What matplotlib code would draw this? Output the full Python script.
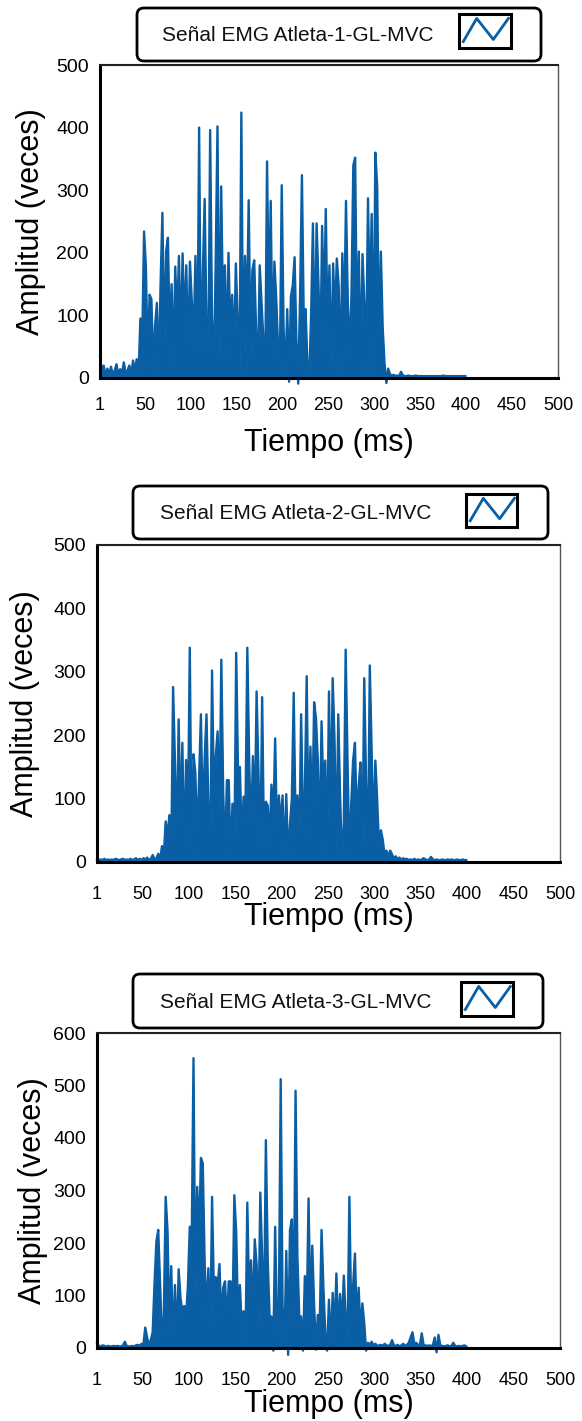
import numpy as np
import matplotlib
matplotlib.use('Agg')
import matplotlib.pyplot as plt
from matplotlib.patches import FancyBboxPatch, Rectangle

plt.rcParams['font.family'] = ['Liberation Sans', 'DejaVu Sans']

# ---------------- data (2 ms grid) ----------------
tiempo = np.arange(1, 400, 2)  # ms

emg_atleta_1 = [
    34, 8, 20, 3, 15, 6, 18, 4, 12, 22,
    5, 14, 8, 25, 6, 12, 20, 4, 28, 10,
    30, 5, 95, 60, 234, 178, 20, 133, 126, 15,
    84, 120, 2, 150, 264, 40, 202, 224, 60, 150,
    20, 178, 90, 195, 50, 199, 80, 180, 30, 186,
    122, 60, 195, 2, 400, 2, 164, 286, 90, 2,
    396, 100, 2, 180, 402, 2, 306, 110, 180, 40,
    200, 70, 133, 30, 183, 90, 2, 424, 2, 195,
    90, 284, 40, 172, 188, 80, 2, 180, 120, 60,
    2, 346, 100, 283, 40, 186, 128, 50, 20, 308,
    80, 2, 110, -6, 130, 148, 193, 60, -9, 133,
    324, 90, 110, 20, 2, 100, 247, 30, 247, 152,
    20, 243, 100, 270, 60, 180, 2, 183, 90, 191,
    148, 2, 199, 80, 283, 120, 40, 135, 340, 352,
    60, 202, 2, 198, 120, 40, 287, 100, 262, 2,
    360, 306, 40, 202, 80, 23, -8, 15, 6, 4,
    5, 3, 4, 3, 10, 4, 3, 3, 4, 3,
    3, 3, 4, 3, 3, 3, 3, 3, 3, 3,
    3, 3, 3, 3, 3, 3, 3, 4, 3, 3,
    3, 3, 3, 3, 3, 3, 3, 3, 3, 3,
]

emg_atleta_2 = [
    4, 3, 4, 3, 5, 3, 4, 3, 4, 3,
    5, 4, 3, 4, 5, 3, 4, 3, 5, 3,
    4, 6, 3, 5, 3, 6, 4, 7, 3, 5,
    11, 4, 6, 13, 3, 25, 10, 64, 40, 74,
    2, 276, 160, 20, 225, 60, 188, 2, 161, 60,
    338, 2, 170, 141, 30, 133, 233, 60, 162, 233,
    90, 2, 302, 100, 167, 206, 70, 319, 110, 10,
    129, 129, 2, 92, 2, 330, 143, 150, 30, 103,
    80, 338, 160, 40, 167, 60, 269, 143, 2, 260,
    20, 95, 89, 30, 122, 60, 195, 40, 105, 60,
    105, 2, 107, 2, 60, 100, 267, 60, 105, 20,
    233, 60, 110, 293, 40, 182, 60, 252, 227, 160,
    20, 222, 111, 160, 2, 269, 60, 290, 192, 2,
    233, 105, 2, 60, 335, 160, 2, 92, 160, 188,
    60, 120, 157, 2, 290, 127, 2, 310, 175, 40,
    160, 97, 20, 50, 35, 10, 18, 8, 18, 12,
    6, 9, 4, 7, 3, 6, 4, 5, 3, 4,
    3, 5, 3, 4, 3, 4, 6, 4, 3, 4,
    8, 4, 3, 4, 3, 3, 4, 3, 3, 4,
    3, 4, 3, 3, 4, 3, 3, 4, 3, 3,
]

emg_atleta_3 = [
    10, 4, 3, 5, 4, 3, 4, 3, 3, 4,
    3, 4, 3, 3, 5, 12, 4, 3, 3, 4,
    3, 5, 6, 4, 8, 6, 39, 20, 5, 15,
    30, 123, 203, 225, 120, 20, 60, 288, 224, 40,
    156, 2, 120, 5, 150, 95, 70, 80, 60, 120,
    231, 187, 552, 80, 307, 203, 362, 352, 165, 60,
    152, 2, 288, 100, 135, 120, 160, 50, 115, 127,
    40, 127, 127, 50, 291, 222, 60, 120, 40, 70,
    2, 277, 93, 167, 60, 207, 160, 30, 296, 168,
    60, 396, 168, 60, 60, -5, 231, 40, 80, 512,
    80, 2, 185, -13, 224, 245, 40, 490, 173, 60,
    60, -5, 137, 60, 285, 60, 195, 82, -3, 63,
    40, 225, 115, 30, -5, 92, 2, 105, 30, 142,
    30, 103, 40, 138, 60, 2, 288, 57, 120, 180,
    40, 115, 30, 85, 48, -5, 10, 6, 12, 5,
    8, 4, 5, 6, 4, 8, 5, 4, 6, 15,
    5, 4, 6, 3, 5, 8, 4, 6, 10, 20,
    30, 8, 10, 6, 5, 28, 6, 5, 4, 5,
    4, 5, 20, -8, 25, 5, 4, 3, 4, 5,
    3, 4, 10, 4, 3, 4, 3, 4, 5, 3,
]

x_ticks = [1, 50, 100, 150, 200, 250, 300, 350, 400, 450, 500]
x_tick_labels = ['1', '50', '100', '150', '200', '250', '300', '350', '400', '450', '500']
y_ticks_500 = [0, 100, 200, 300, 400, 500]
y_ticks_600 = [0, 100, 200, 300, 400, 500, 600]
titulos = ['Señal EMG Atleta-1-GL-MVC', 'Señal EMG Atleta-2-GL-MVC', 'Señal EMG Atleta-3-GL-MVC']
x_label = 'Tiempo (ms)'
y_label = 'Amplitud (veces)'

# ---------------- layout ----------------
W, H = 582, 1421
BLUE = '#0a5fa4'
fig = plt.figure(figsize=(W / 100, H / 100), dpi=100)

panels = [
    dict(series=emg_atleta_1, yticks=y_ticks_500, ymax=500, box=(100, 65, 558, 378),
         legend=(137, 8, 541, 61), text_x=162, icon=(459, 14, 52, 34),
         xlab_y=-0.16, tickpad=14, ylab_x=-0.118),
    dict(series=emg_atleta_2, yticks=y_ticks_500, ymax=500, box=(97, 545, 560, 862),
         legend=(133, 486, 548, 539), text_x=160, icon=(466, 494, 51, 33),
         xlab_y=-0.125, tickpad=17, ylab_x=-0.123),
    dict(series=emg_atleta_3, yticks=y_ticks_600, ymax=600, box=(97, 1033, 560, 1348),
         legend=(133, 974, 543, 1028), text_x=160, icon=(461, 982, 52, 34),
         xlab_y=-0.13, tickpad=17, ylab_x=-0.106),
]

overlay = fig.add_axes([0, 0, 1, 1], zorder=5)
overlay.set_xlim(0, W)
overlay.set_ylim(H, 0)
overlay.axis('off')
overlay.patch.set_alpha(0)

for p, titulo in zip(panels, titulos):
    l, t, r, b = p['box']
    ax = fig.add_axes([l / W, 1 - b / H, (r - l) / W, (b - t) / H])
    vals = np.asarray(p['series'], dtype=float)
    ax.fill_between(tiempo, np.clip(vals, 0, None), 0, color=BLUE, lw=0)
    ax.plot(tiempo, vals, color=BLUE, lw=1.7, clip_on=False)
    ax.set_xlim(1, 500)
    ax.set_ylim(0, p['ymax'])
    ax.set_xticks(x_ticks)
    ax.set_xticklabels(x_tick_labels)
    ax.set_yticks(p['yticks'])
    ax.tick_params(axis='both', length=0)
    ax.tick_params(axis='x', labelsize=13, pad=p['tickpad'])
    ax.tick_params(axis='y', labelsize=14, pad=8)
    for s in ('left', 'bottom'):
        ax.spines[s].set_linewidth(2.2)
        ax.spines[s].set_color('black')
    ax.spines['top'].set_linewidth(1.5)
    ax.spines['top'].set_color('#222222')
    ax.spines['right'].set_linewidth(1.0)
    ax.spines['right'].set_color('#555555')
    ax.set_xlabel(x_label, fontsize=22)
    ax.set_ylabel(y_label, fontsize=22)
    ax.xaxis.set_label_coords(0.5, p['xlab_y'])
    ax.yaxis.set_label_coords(p['ylab_x'], 0.5)

    # legend box
    x0, y0, x1, y1 = p['legend']
    overlay.add_patch(FancyBboxPatch((x0, y0), x1 - x0, y1 - y0,
                                     boxstyle='round,pad=0,rounding_size=7',
                                     fc='white', ec='black', lw=2))
    overlay.text(p['text_x'], (y0 + y1) / 2 + 1, titulo, fontsize=15,
                 ha='left', va='center', color='#111111')
    ix, iy, iw, ih = p['icon']
    overlay.add_patch(Rectangle((ix, iy), iw, ih, fill=False, ec='black', lw=2.2))
    zx = [ix + f * iw for f in (0.083, 0.34, 0.66, 0.95)]
    zy = [iy + f * ih for f in (0.81, 0.13, 0.75, 0.13)]
    overlay.plot(zx, zy, color=BLUE, lw=2)

fig.savefig('out.png', dpi=100)
